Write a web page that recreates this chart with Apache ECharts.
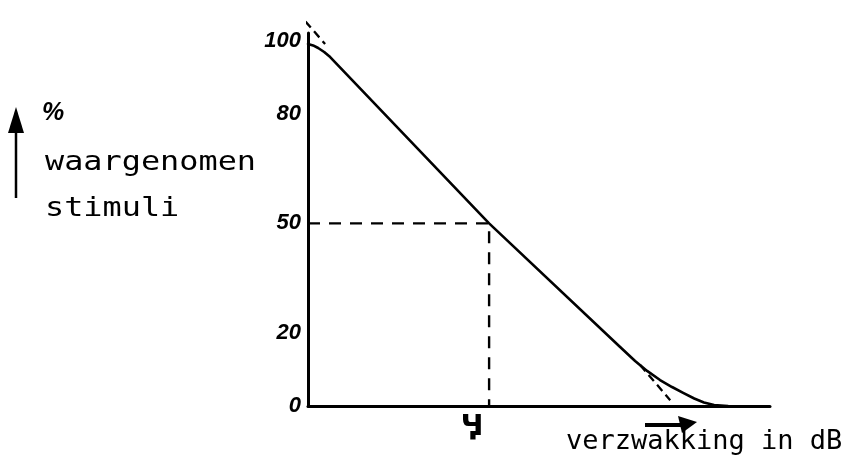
<!DOCTYPE html>
<html>
<head>
<meta charset="utf-8">
<style>
  html, body { margin: 0; padding: 0; background: #fff; }
  #chart { width: 853px; height: 459px; }
</style>
<script src="https://cdn.jsdelivr.net/npm/echarts@6/dist/echarts.min.js"></script>
</head>
<body>
<div id="chart"></div>
<script>
// verzwakking (relatieve eenheden langs de as) en % waargenomen stimuli
const curveX = [0, 1.1, 2.2, 3.5, 4.8, 39.2, 67.5, 70.8, 73.4, 76.2, 78.8, 81.2, 83.6, 85.7, 87.9, 90.9];
const curveY = [99.1, 98.7, 98.0, 96.9, 95.5, 50, 16.2, 12.3, 9.6, 7.1, 5.2, 3.6, 2.05, 0.96, 0.27, 0];

// 50%-punt
const x50 = 39.2;
const y50 = 50;

// gestippelde raaklijn (alleen de uiteinden zijn getekend)
const tangentTop = [[-2.4, 107.9], [3.7, 99.1]];
const tangentBottom = [[71.9, 11.2], [78.4, 1.6]];

const yTickValues = [0, 20, 50, 80, 100];

const chart = echarts.init(document.getElementById('chart'));

const mono = '"DejaVu Sans Mono", monospace';

const option = {
  backgroundColor: '#fff',
  animation: false,
  grid: { left: 308, right: 83, top: 33, bottom: 53 },
  xAxis: {
    type: 'value',
    min: 0,
    max: 100,
    axisLine: { show: true, lineStyle: { color: '#000', width: 3 } },
    axisTick: { show: false },
    axisLabel: { show: false },
    splitLine: { show: false }
  },
  yAxis: {
    type: 'value',
    min: 0,
    max: 102.1,
    axisLine: { show: true, lineStyle: { color: '#000', width: 3 } },
    axisTick: { show: false },
    splitLine: { show: false },
    axisLabel: {
      customValues: yTickValues,
      color: '#000',
      fontStyle: 'italic',
      fontWeight: 'bold',
      fontFamily: 'Liberation Sans',
      fontSize: 22,
      margin: 7
    }
  },
  series: [
    {
      name: 'curve',
      type: 'line',
      data: curveX.map((x, i) => [x, curveY[i]]),
      smooth: false,
      showSymbol: false,
      lineStyle: { color: '#000', width: 2.6, join: 'round', cap: 'round' }
    },
    {
      name: '50%',
      type: 'line',
      data: [[0, y50], [x50, y50], [x50, 0]],
      showSymbol: false,
      lineStyle: { color: '#000', width: 2.4, type: [12, 9] }
    },
    {
      name: 'raaklijn boven',
      type: 'line',
      data: tangentTop,
      clip: false,
      showSymbol: false,
      lineStyle: { color: '#000', width: 2.3, type: [8, 5] }
    },
    {
      name: 'raaklijn onder',
      type: 'line',
      data: tangentBottom,
      clip: false,
      showSymbol: false,
      lineStyle: { color: '#000', width: 2.3, type: [8, 5] }
    }
  ],
  graphic: [
    // pijl omhoog bij de y-as titel
    { type: 'line', shape: { x1: 16, y1: 198, x2: 16, y2: 126 }, style: { stroke: '#000', lineWidth: 2.5 } },
    { type: 'polygon', shape: { points: [[16, 107], [8, 133], [24, 133]] }, style: { fill: '#000' } },
    { type: 'text', x: 42, y: 113, style: { text: '%', font: 'italic bold 25px "Liberation Sans"', fill: '#000', textVerticalAlign: 'middle' } },
    { type: 'text', x: 45, y: 163, scaleX: 1.18, style: { text: 'waargenomen', font: '27px ' + mono, fill: '#000', textVerticalAlign: 'middle' } },
    { type: 'text', x: 45, y: 209, scaleX: 1.18, style: { text: 'stimuli', font: '27px ' + mono, fill: '#000', textVerticalAlign: 'middle' } },
    // pijl naar rechts bij de x-as titel
    { type: 'line', shape: { x1: 645, y1: 425, x2: 683, y2: 425 }, style: { stroke: '#000', lineWidth: 4 } },
    { type: 'polygon', shape: { points: [[697, 422], [678, 416], [682, 433]] }, style: { fill: '#000' } },
    { type: 'text', x: 566, y: 442, style: { text: 'verzwakking in dB', font: '27px ' + mono, fill: '#000', textVerticalAlign: 'middle' } },
    { type: 'text', x: 472, y: 428, style: { text: 'Ӌ', font: 'bold 28px "DejaVu Sans"', fill: '#000', textAlign: 'center', textVerticalAlign: 'middle' } }
  ]
};

chart.setOption(option);
</script>
</body>
</html>
